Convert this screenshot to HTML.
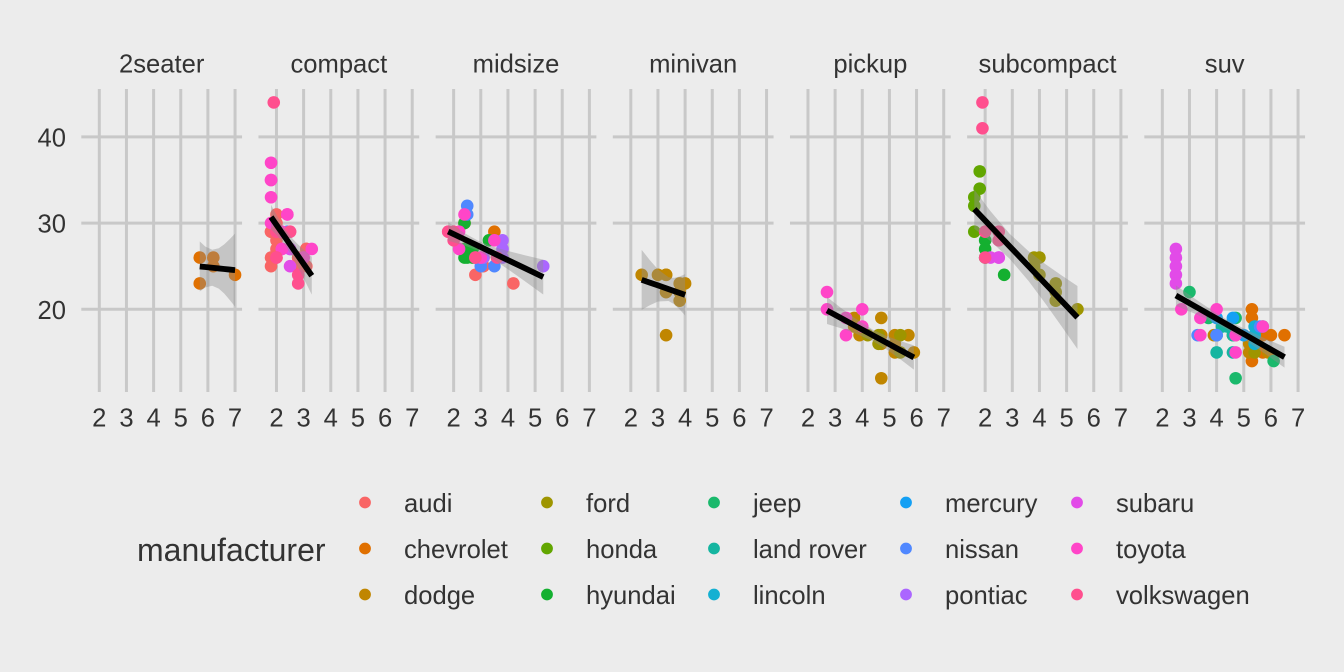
<!DOCTYPE html>
<html lang="en">
<head>
<meta charset="utf-8">
<title>Highway mileage by engine displacement, faceted by class</title>
<style>
html,body{margin:0;padding:0;background:#ececec;}
svg{display:block;}
text{font-family:"Liberation Sans",Arial,sans-serif;}
</style>
</head>
<body>
<svg id="chart" xmlns="http://www.w3.org/2000/svg" width="1344" height="672" viewBox="0 0 1344 672">
  <rect x="0" y="0" width="1344" height="672" fill="#ececec"/>
  <g id="panels"></g>
  <g font-size="25.6" fill="#333333">
    <text x="137" y="561" font-size="32">manufacturer</text>
    <g><circle cx="365" cy="502.5" r="5.9" fill="#f96565"/><text x="404" y="512">audi</text></g>
    <g><circle cx="365" cy="548.5" r="5.9" fill="#e07000"/><text x="404" y="558">chevrolet</text></g>
    <g><circle cx="365" cy="594.5" r="5.9" fill="#c08600"/><text x="404" y="604">dodge</text></g>
    <g><circle cx="547" cy="502.5" r="5.9" fill="#9e9500"/><text x="586" y="512">ford</text></g>
    <g><circle cx="547" cy="548.5" r="5.9" fill="#62a600"/><text x="586" y="558">honda</text></g>
    <g><circle cx="547" cy="594.5" r="5.9" fill="#14b030"/><text x="586" y="604">hyundai</text></g>
    <g><circle cx="714" cy="502.5" r="5.9" fill="#1ab96c"/><text x="753" y="512">jeep</text></g>
    <g><circle cx="714" cy="548.5" r="5.9" fill="#15b5a0"/><text x="753" y="558">land rover</text></g>
    <g><circle cx="714" cy="594.5" r="5.9" fill="#14b0d2"/><text x="753" y="604">lincoln</text></g>
    <g><circle cx="906" cy="502.5" r="5.9" fill="#14a0f4"/><text x="945" y="512">mercury</text></g>
    <g><circle cx="906" cy="548.5" r="5.9" fill="#5088ff"/><text x="945" y="558">nissan</text></g>
    <g><circle cx="906" cy="594.5" r="5.9" fill="#ab66ff"/><text x="945" y="604">pontiac</text></g>
    <g><circle cx="1077" cy="502.5" r="5.9" fill="#e24be8"/><text x="1116" y="512">subaru</text></g>
    <g><circle cx="1077" cy="548.5" r="5.9" fill="#ff45c8"/><text x="1116" y="558">toyota</text></g>
    <g><circle cx="1077" cy="594.5" r="5.9" fill="#ff4f8e"/><text x="1116" y="604">volkswagen</text></g>
  </g>
</svg>
<script>
// ---- categories and ticks ----
const classes = ["2seater","compact","midsize","minivan","pickup","subcompact","suv"];
const manufacturers = ["audi","chevrolet","dodge","ford","honda","hyundai","jeep","land rover","lincoln","mercury","nissan","pontiac","subaru","toyota","volkswagen"];
const xTickLabels = [2,3,4,5,6,7];
const yTickLabels = [20,30,40];

// ---- point series: maker index, displacement, highway mpg ----
const makerTwoSeater = [1,1,1,1,1];
const displTwoSeater = [5.7,5.7,6.2,6.2,7];
const hwyTwoSeater   = [26,23,26,25,24];

const makerCompact = [0,0,0,0,0,0,0,0,0,0,0,0,0,0,0, 10,10, 12,12,12, 13,13,13,13,13,13,13,13,13,13,13,13, 14,14,14,14,14,14,14,14,14];
const displCompact = [1.8,1.8,2,2,2.8,2.8,3.1,1.8,1.8,2,2,2.8,2.8,3.1,3.1, 2.4,2.5, 2.2,2.5,2.5, 1.8,1.8,1.8,1.8,1.8,2.2,2.2,2.4,2.4,3,3,3.3, 1.9,2,2,2,2,2.5,2.5,2.8,2.8];
const hwyCompact   = [29,29,31,30,26,26,27,26,25,28,27,25,25,25,27, 29,27, 27,25,27, 37,35,35,33,30,29,27,31,31,26,26,27, 44,29,29,26,26,29,29,24,23];

const makerMidsize = [0,0,0, 1,1,1,1,1, 5,5,5,5,5,5,5, 10,10,10,10, 11,11,11,11,11, 13,13,13,13,13,13, 14,14,14,14,14,14,14];
const displMidsize = [2.8,3.1,4.2, 2.4,2.4,3.1,3.5,3.6, 2.4,2.4,2.4,2.5,2.7,2.7,3.3, 2.5,2.5,3,3.5, 3.1,3.8,3.8,3.8,5.3, 2.2,2.2,2.4,3,3,3.5, 1.8,1.8,2,2,2.8,2.8,3.6];
const hwyMidsize   = [24,25,23, 27,30,26,29,26, 30,27,26,26,26,27,28, 32,31,25,25, 26,28,27,26,25, 27,29,31,26,26,28, 29,29,28,29,26,26,26];

const makerMinivan = [2,2,2,2,2,2,2,2,2,2,2];
const displMinivan = [2.4,3,3.3,3.3,3.3,3.3,3.3,3.8,3.8,3.8,4];
const hwyMinivan   = [24,24,22,22,24,24,17,22,21,23,23];

const makerPickup = [2,2,2,2,2,2,2,2,2,2,2,2, 3,3,3,3,3, 13,13,13,13,13,13];
const displPickup = [3.7,3.7,3.9,4.7,4.7,4.7,4.7,5.2,5.2,5.2,5.7,5.9, 4.2,4.6,4.6,5.4,5.4, 2.7,2.7,3.4,3.4,4,4];
const hwyPickup   = [19,18,17,19,17,16,12,17,16,15,17,15, 17,17,16,17,15, 20,22,19,17,20,18];

const makerSubcompact = [3,3,3,3,3,3,3,3, 4,4,4,4,4, 5,5,5,5, 12,12,12, 14,14,14,14,14,14];
const displSubcompact = [3.8,3.8,4,4,4.6,4.6,4.6,5.4, 1.6,1.6,1.6,1.8,1.8, 2,2,2,2.7, 2.2,2.5,2.5, 1.9,1.9,2,2,2.5,2.5];
const hwySubcompact   = [26,25,26,24,23,22,21,20, 33,32,29,36,34, 28,27,26,24, 26,26,26, 44,41,29,26,29,28];

const makerSuv = [1,1,1,1,1,1,1,1, 2,2,2,2,2, 3,3,3,3,3, 6,6,6,6,6,6, 7,7,7,7,7, 8,8,8, 9,9,9,9, 10,10,10, 12,12,12,12,12, 13,13,13,13,13,13,13];
const displSuv = [5.3,5.3,5.3,5.3,5.7,5.7,6,6.5, 3.9,4.7,5.2,5.2,5.9, 4,4.6,5.4,5.4,5.4, 3,3.7,4.7,4.7,5.7,6.1, 4,4.2,4.4,4.6,4.6, 5.4,5.4,5.4, 4,4,4.6,5, 3.3,4,5.6, 2.5,2.5,2.5,2.5,2.5, 2.7,3.4,3.4,4,4.7,4.7,5.7];
const hwySuv   = [20,19,15,14,17,15,17,17, 17,17,16,15,15, 17,17,17,16,15, 22,19,19,12,18,14, 15,18,18,17,15, 18,17,16, 19,17,19,17, 17,17,18, 27,26,25,24,23, 20,19,17,20,17,15,18];

// ---- fitted lines and confidence ribbons ----
const smoothXTwoSeater  = [5.7,5.9,6.16,6.4,6.6,6.8,7];
const smoothFitTwoSeater= [24.97,24.91,24.82,24.74,24.68,24.61,24.55];
const smoothLoTwoSeater = [22.06,22.53,22.73,22.40,21.83,21.10,20.31];
const smoothHiTwoSeater = [27.88,27.29,26.91,27.08,27.53,28.12,28.79];

const smoothXCompact  = [1.8,2,2.33,2.6,2.8,3.05,3.3];
const smoothFitCompact= [30.7,29.79,28.30,27.07,26.17,25.04,23.9];
const smoothLoCompact = [29.27,28.64,27.38,25.99,24.83,23.29,21.7];
const smoothHiCompact = [32.13,30.94,29.22,28.15,27.51,26.79,26.1];

const smoothXMidsize  = [1.8,2.4,2.92,3.5,4,4.6,5.3];
const smoothFitMidsize= [29.03,28.12,27.34,26.46,25.71,24.80,23.74];
const smoothLoMidsize = [27.95,27.40,26.76,25.71,24.65,23.31,21.71];
const smoothHiMidsize = [30.11,28.84,27.92,27.21,26.77,26.29,25.77];

const smoothXMinivan  = [2.4,2.7,3,3.39,3.6,3.8,4];
const smoothFitMinivan= [23.42,23.09,22.77,22.34,22.11,21.89,21.68];
const smoothLoMinivan = [19.94,20.47,20.91,20.96,20.58,19.98,19.28];
const smoothHiMinivan = [26.90,25.71,24.63,23.72,23.64,23.80,24.08];

const smoothXPickup  = [2.7,3.2,3.7,4.4,4.9,5.4,5.9];
const smoothFitPickup= [19.86,19.01,18.15,16.96,16.11,15.26,14.41];
const smoothLoPickup = [18.30,17.82,17.27,16.30,15.33,14.20,13.00];
const smoothHiPickup = [21.42,20.20,19.03,17.62,16.89,16.32,15.82];

const smoothXSubcompact  = [1.6,2.2,2.9,3.6,4.2,4.8,5.4];
const smoothFitSubcompact= [31.62,29.64,27.32,25.01,23.02,21.03,19.05];
const smoothLoSubcompact = [29.35,27.91,25.87,23.28,20.75,18.09,15.39];
const smoothHiSubcompact = [33.89,31.37,28.77,26.74,25.29,23.97,22.71];

const smoothXSuv  = [2.5,3.2,3.9,4.46,5.1,5.8,6.5];
const smoothFitSuv= [21.6,20.35,19.10,18.10,16.96,15.70,14.45];
const smoothLoSuv = [20.43,19.48,18.47,17.54,16.31,14.80,13.24];
const smoothHiSuv = [22.77,21.22,19.73,18.66,17.61,16.60,15.66];

// ---- wiring of arrays to panels, in class order ----
const makerSets = [makerTwoSeater,makerCompact,makerMidsize,makerMinivan,makerPickup,makerSubcompact,makerSuv];
const displSets = [displTwoSeater,displCompact,displMidsize,displMinivan,displPickup,displSubcompact,displSuv];
const hwySets   = [hwyTwoSeater,hwyCompact,hwyMidsize,hwyMinivan,hwyPickup,hwySubcompact,hwySuv];
const smoothXSets   = [smoothXTwoSeater,smoothXCompact,smoothXMidsize,smoothXMinivan,smoothXPickup,smoothXSubcompact,smoothXSuv];
const smoothFitSets = [smoothFitTwoSeater,smoothFitCompact,smoothFitMidsize,smoothFitMinivan,smoothFitPickup,smoothFitSubcompact,smoothFitSuv];
const smoothLoSets  = [smoothLoTwoSeater,smoothLoCompact,smoothLoMidsize,smoothLoMinivan,smoothLoPickup,smoothLoSubcompact,smoothLoSuv];
const smoothHiSets  = [smoothHiTwoSeater,smoothHiCompact,smoothHiMidsize,smoothHiMinivan,smoothHiPickup,smoothHiSubcompact,smoothHiSuv];

// ---- styling ----
const makerColors = ["#f96565","#e07000","#c08600","#9e9500","#62a600","#14b030","#1ab96c","#15b5a0","#14b0d2","#14a0f4","#5088ff","#ab66ff","#e24be8","#ff45c8","#ff4f8e"];
const SVG_NS = "http://www.w3.org/2000/svg";
const GRID = "#c8c8c8";
const GRID_W = 3;
const TEXT = "#333333";

// ---- axis functions ----
const PANEL_STEP = 177.17, X2_FIRST = 99.3, X_UNIT = 27.15;
const Y_AT_20 = 309.3, Y_UNIT = 8.62;
const PANEL_TOP = 89, PANEL_BOTTOM = 392;
function xScale(panel, v){ return X2_FIRST + panel * PANEL_STEP + (v - 2) * X_UNIT; }
function yScale(v){ return Y_AT_20 - (v - 20) * Y_UNIT; }

function svgEl(tag, parent){
  const e = document.createElementNS(SVG_NS, tag);
  parent.appendChild(e);
  return e;
}

const root = document.getElementById("panels");

classes.forEach(function(cls, p){
  const g = svgEl("g", root);
  
  

  const left = xScale(p, 2) - 18;
  const right = xScale(p, 7) + 7;

  const strip = svgEl("text", g);
  
  
  strip.setAttribute("x", (left + right) / 2);
  strip.setAttribute("y", 72.7);
  strip.setAttribute("text-anchor", "middle");
  strip.setAttribute("font-size", "25.6");
  strip.setAttribute("fill", TEXT);
  strip.textContent = cls;

  yTickLabels.forEach(function(t){
    const l = svgEl("line", g);
    
    
    l.setAttribute("x1", left);
    l.setAttribute("x2", right);
    l.setAttribute("y1", yScale(t));
    l.setAttribute("y2", yScale(t));
    l.setAttribute("stroke", GRID);
    l.setAttribute("stroke-width", GRID_W);
  });

  xTickLabels.forEach(function(t){
    const l = svgEl("line", g);
    
    
    l.setAttribute("x1", xScale(p, t));
    l.setAttribute("x2", xScale(p, t));
    l.setAttribute("y1", PANEL_TOP);
    l.setAttribute("y2", PANEL_BOTTOM);
    l.setAttribute("stroke", GRID);
    l.setAttribute("stroke-width", GRID_W);

    const lab = svgEl("text", g);
    
    
    lab.setAttribute("x", xScale(p, t));
    lab.setAttribute("y", 426.5);
    lab.setAttribute("text-anchor", "middle");
    lab.setAttribute("font-size", "25.6");
    lab.setAttribute("fill", TEXT);
    lab.textContent = t;
  });

  if (p === 0) {
    yTickLabels.forEach(function(t){
      const lab = svgEl("text", g);
      
      
      lab.setAttribute("x", 66);
      lab.setAttribute("y", yScale(t) + 9.5);
      lab.setAttribute("text-anchor", "end");
      lab.setAttribute("font-size", "25.6");
      lab.setAttribute("fill", TEXT);
      lab.textContent = t;
    });
  }

  const makers = makerSets[p], displ = displSets[p], hwy = hwySets[p];
  displ.forEach(function(d, i){
    const c = svgEl("circle", g);
    
    
    c.setAttribute("cx", xScale(p, d));
    c.setAttribute("cy", yScale(hwy[i]));
    c.setAttribute("r", 6.3);
    c.setAttribute("fill", makerColors[makers[i]]);
  });

  const sx = smoothXSets[p], fit = smoothFitSets[p], lo = smoothLoSets[p], hi = smoothHiSets[p];
  const upper = sx.map(function(x, i){ return xScale(p, x) + "," + yScale(hi[i]); });
  const lower = sx.map(function(x, i){ return xScale(p, x) + "," + yScale(lo[i]); }).reverse();
  const band = svgEl("polygon", g);
  
  
  band.setAttribute("points", upper.concat(lower).join(" "));
  band.setAttribute("fill", "#8e8e8e");
  band.setAttribute("fill-opacity", "0.42");

  const line = svgEl("polyline", g);
  
  
  line.setAttribute("points", sx.map(function(x, i){ return xScale(p, x) + "," + yScale(fit[i]); }).join(" "));
  line.setAttribute("fill", "none");
  line.setAttribute("stroke", "#000000");
  line.setAttribute("stroke-width", 5.8);
});
</script>
</body>
</html>
